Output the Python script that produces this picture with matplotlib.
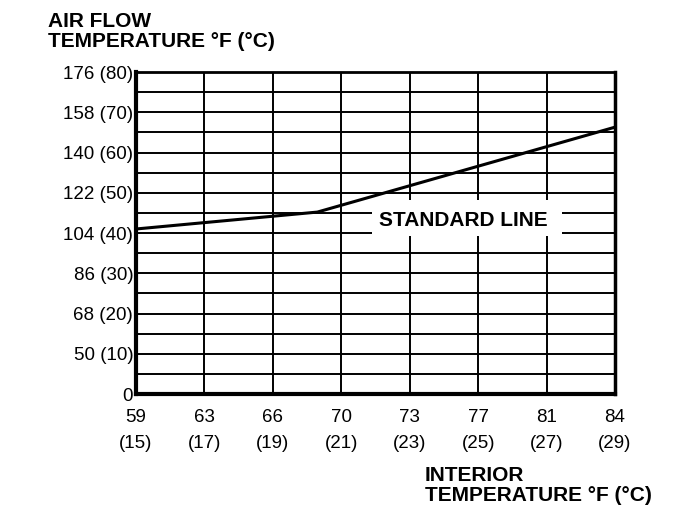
import matplotlib
matplotlib.use("Agg")
import matplotlib.pyplot as plt
from matplotlib.patches import Rectangle

plt.rcParams["font.family"] = ["Liberation Sans", "DejaVu Sans"]

# interior temperature ticks (deg C axis, deg F labels)
x_c = [15, 17, 19, 21, 23, 25, 27, 29]
x_f = [59, 63, 66, 70, 73, 77, 81, 84]

# air flow temperature ticks
y_c = [0, 10, 20, 30, 40, 50, 60, 70, 80]
y_f = [None, 50, 68, 86, 104, 122, 140, 158, 176]

# standard line (deg C)
line_x = [15, 20.3, 29]
line_y = [41, 45.2, 66.3]

fig = plt.figure(figsize=(6.88, 5.2), dpi=100)
ax = fig.add_axes([0.1977, 0.2423, 0.6962, 0.6192])
ax.set_xlim(x_c[0], x_c[-1])
ax.set_ylim(0, 80)

# grid: vertical at each tick, horizontal every 5 deg C
for xv in x_c[1:-1]:
    ax.axvline(xv, color="black", lw=1.4, zorder=1)
for yv in range(5, 80, 5):
    ax.axhline(yv, color="black", lw=1.4, zorder=1)

# white gap in the grid behind the label
ax.add_patch(Rectangle((21.9, 39.3), 5.55, 9.0, facecolor="white",
                       edgecolor="none", zorder=2))
ax.text(24.56, 43.2, "STANDARD LINE", fontsize=15, fontweight="bold",
        ha="center", va="center", zorder=2.5)

ax.plot(line_x, line_y, color="black", lw=2.2, zorder=3)

ax.set_xticks(x_c)
ax.set_xticklabels([f"{f}\n({c})" for f, c in zip(x_f, x_c)],
                   fontsize=13.5, linespacing=1.7)
ax.set_yticks(y_c)
ax.set_yticklabels(["0" if f is None else f"{f} ({c})" for f, c in zip(y_f, y_c)],
                   fontsize=13.5)
ax.tick_params(axis="both", length=0)
ax.tick_params(axis="y", pad=2)
ax.tick_params(axis="x", pad=11)

ax.spines["left"].set_linewidth(3)
ax.spines["bottom"].set_linewidth(3)
ax.spines["top"].set_linewidth(2)
ax.spines["right"].set_linewidth(2.5)

fig.text(48 / 688, 1 - 12 / 520, "AIR FLOW\nTEMPERATURE °F (°C)",
         fontsize=15, fontweight="bold", ha="left", va="top", linespacing=1.05)
fig.text(425 / 688, 1 - 466 / 520, "INTERIOR\nTEMPERATURE °F (°C)",
         fontsize=15, fontweight="bold", ha="left", va="top", linespacing=1.05)

fig.savefig("out.png", dpi=100)
